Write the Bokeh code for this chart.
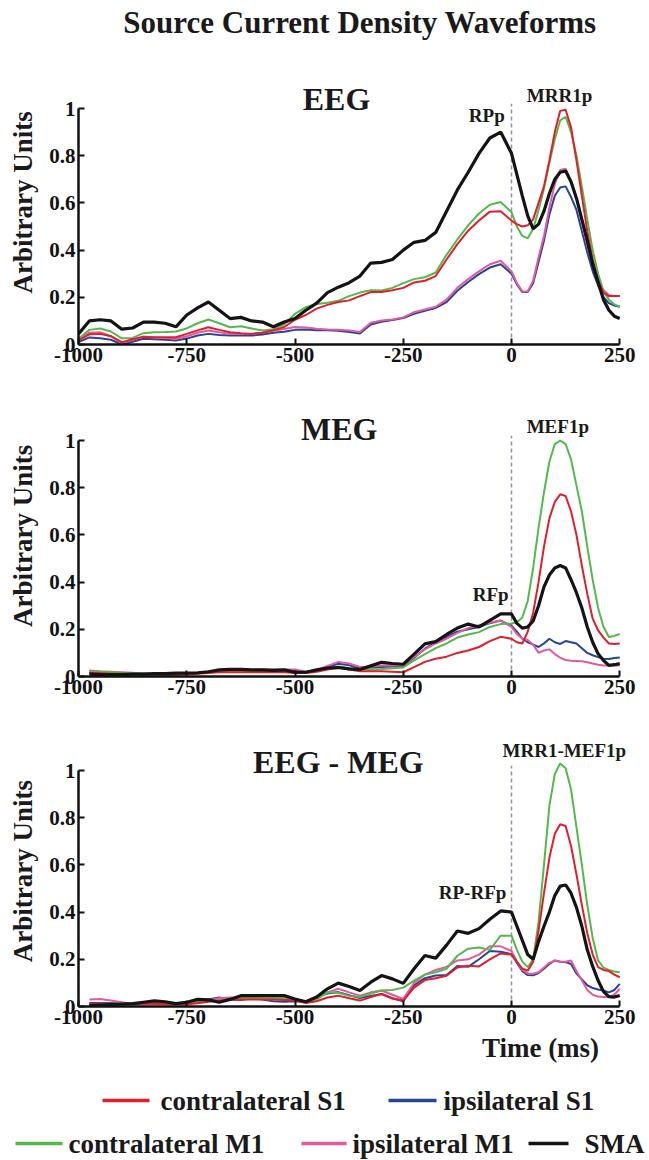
import math
import numpy as np
from bokeh.plotting import figure
from bokeh.layouts import column, row
from bokeh.models import Range1d, FixedTicker, NumeralTickFormatter
from bokeh.core.properties import value
from bokeh.embed import file_html
from bokeh.resources import INLINE

nan = float("nan")

# ---------------- data ----------------
time_ms = [-1000, -975, -950, -925, -900, -875, -850, -825, -800, -775,
           -750, -725, -700, -675, -650, -625, -600, -575, -550, -525,
           -500, -475, -450, -425, -400, -375, -350, -325, -300, -275,
           -250, -225, -200, -175, -150, -125, -100, -75, -50, -25,
           0, 12.5, 25, 37.5, 50, 62.5, 75, 87.5, 100, 112.5,
           125, 137.5, 150, 162.5, 175, 187.5, 200, 212.5, 225, 237.5, 250]

series_names = ["ipsilateral S1", "ipsilateral M1", "contralateral M1", "contralateral S1", "SMA"]

# EEG
eeg_contra_s1 = [0.017, 0.043, 0.045, 0.035, 0.01, 0.022, 0.032, 0.031, 0.031, 0.031,
                 0.045, 0.06, 0.073, 0.062, 0.052, 0.048, 0.045, 0.05, 0.06, 0.074,
                 0.105, 0.125, 0.152, 0.168, 0.18, 0.187, 0.205, 0.222, 0.222, 0.23,
                 0.24, 0.263, 0.27, 0.29, 0.36, 0.425, 0.482, 0.525, 0.563, 0.565,
                 0.525, 0.51, 0.50, 0.505, 0.53, 0.60, 0.67, 0.78, 0.90, 0.99,
                 0.995, 0.92, 0.78, 0.63, 0.48, 0.36, 0.27, 0.22, 0.205, 0.205, 0.205]
eeg_ipsi_s1 = [0.01, 0.03, 0.026, 0.02, 0.0, 0.012, 0.024, 0.022, 0.02, 0.017,
               0.025, 0.038, 0.045, 0.04, 0.038, 0.038, 0.038, 0.042, 0.05, 0.054,
               0.062, 0.064, 0.06, 0.06, 0.058, 0.053, 0.047, 0.085, 0.096, 0.104,
               0.112, 0.13, 0.143, 0.155, 0.18, 0.228, 0.265, 0.298, 0.326, 0.34,
               0.30, 0.255, 0.222, 0.222, 0.26, 0.35, 0.44, 0.55, 0.63, 0.665,
               0.67, 0.625, 0.57, 0.48, 0.39, 0.31, 0.25, 0.20, 0.175, 0.165, 0.16]
eeg_contra_m1 = [0.024, 0.062, 0.068, 0.055, 0.026, 0.028, 0.048, 0.052, 0.053, 0.055,
                 0.068, 0.09, 0.106, 0.09, 0.073, 0.077, 0.068, 0.059, 0.065, 0.085,
                 0.13, 0.158, 0.172, 0.177, 0.185, 0.205, 0.22, 0.23, 0.229, 0.24,
                 0.26, 0.277, 0.285, 0.305, 0.38, 0.445, 0.505, 0.555, 0.592, 0.604,
                 0.56, 0.50, 0.46, 0.45, 0.49, 0.57, 0.66, 0.77, 0.87, 0.95,
                 0.965, 0.90, 0.80, 0.67, 0.53, 0.40, 0.30, 0.225, 0.19, 0.17, 0.16]
eeg_ipsi_m1 = [0.02, 0.05, 0.052, 0.035, 0.006, 0.02, 0.034, 0.03, 0.028, 0.024,
               0.035, 0.05, 0.059, 0.052, 0.046, 0.045, 0.045, 0.05, 0.058, 0.066,
               0.074, 0.072, 0.067, 0.064, 0.062, 0.059, 0.053, 0.092, 0.102, 0.106,
               0.115, 0.137, 0.148, 0.16, 0.19, 0.24, 0.277, 0.31, 0.34, 0.355,
               0.31, 0.26, 0.225, 0.225, 0.27, 0.37, 0.46, 0.58, 0.68, 0.74,
               0.745, 0.69, 0.62, 0.52, 0.42, 0.34, 0.27, 0.23, 0.21, 0.205, 0.205]
eeg_sma = [0.045, 0.10, 0.105, 0.10, 0.065, 0.07, 0.095, 0.095, 0.09, 0.075,
           0.125, 0.155, 0.18, 0.145, 0.11, 0.115, 0.10, 0.095, 0.075, 0.095,
           0.11, 0.145, 0.175, 0.22, 0.243, 0.262, 0.29, 0.345, 0.348, 0.36,
           0.40, 0.433, 0.441, 0.475, 0.565, 0.655, 0.73, 0.81, 0.875, 0.90,
           0.81, 0.72, 0.63, 0.545, 0.49, 0.51, 0.565, 0.64, 0.70, 0.73,
           0.735, 0.69, 0.62, 0.53, 0.44, 0.34, 0.265, 0.19, 0.145, 0.12, 0.11]

# MEG
meg_contra_s1 = [nan, 0.015, 0.014, 0.012, 0.012, 0.01, 0.01, 0.008, 0.008, 0.008,
                 0.01, 0.012, 0.015, 0.018, 0.018, 0.018, 0.018, 0.018, 0.018, 0.018,
                 0.015, 0.015, 0.02, 0.03, 0.037, 0.03, 0.022, 0.022, 0.022, 0.02,
                 0.018, 0.04, 0.062, 0.075, 0.084, 0.10, 0.11, 0.125, 0.15, 0.168,
                 0.16, 0.145, 0.14, 0.19, 0.27, 0.40, 0.55, 0.67, 0.74, 0.772,
                 0.765, 0.70, 0.60, 0.47, 0.35, 0.245, 0.195, 0.165, 0.14, 0.138, 0.14]
meg_ipsi_s1 = [nan, 0.018, 0.018, 0.016, 0.014, 0.012, 0.01, 0.01, 0.01, 0.01,
               0.012, 0.014, 0.018, 0.022, 0.025, 0.025, 0.025, 0.026, 0.026, 0.028,
               0.025, 0.018, 0.025, 0.04, 0.054, 0.048, 0.036, 0.038, 0.04, 0.042,
               0.042, 0.08, 0.118, 0.145, 0.168, 0.19, 0.20, 0.21, 0.226, 0.237,
               0.215, 0.19, 0.16, 0.145, 0.135, 0.125, 0.14, 0.16, 0.145, 0.138,
               0.15, 0.145, 0.14, 0.12, 0.10, 0.09, 0.082, 0.075, 0.074, 0.078, 0.081]
meg_contra_m1 = [nan, 0.02, 0.02, 0.018, 0.016, 0.015, 0.014, 0.012, 0.01, 0.01,
                 0.012, 0.015, 0.018, 0.02, 0.022, 0.022, 0.022, 0.022, 0.022, 0.025,
                 0.02, 0.018, 0.025, 0.035, 0.042, 0.035, 0.03, 0.03, 0.032, 0.035,
                 0.038, 0.068, 0.095, 0.12, 0.14, 0.165, 0.178, 0.188, 0.21, 0.222,
                 0.225, 0.23, 0.25, 0.32, 0.46, 0.63, 0.78, 0.91, 0.985, 1.0,
                 0.985, 0.92, 0.81, 0.70, 0.55, 0.41, 0.29, 0.21, 0.167, 0.172, 0.18]
meg_ipsi_m1 = [nan, 0.025, 0.022, 0.02, 0.018, 0.016, 0.012, 0.01, 0.008, 0.01,
               0.012, 0.014, 0.02, 0.025, 0.028, 0.028, 0.028, 0.03, 0.03, 0.03,
               0.03, 0.02, 0.028, 0.045, 0.062, 0.055, 0.04, 0.042, 0.047, 0.048,
               0.047, 0.083, 0.115, 0.14, 0.16, 0.185, 0.205, 0.217, 0.228, 0.237,
               0.21, 0.18, 0.16, 0.155, 0.135, 0.10, 0.11, 0.115, 0.095, 0.08,
               0.07, 0.067, 0.066, 0.065, 0.06, 0.055, 0.05, 0.047, 0.047, 0.047, 0.047]
meg_sma = [nan, 0.01, 0.008, 0.008, 0.008, 0.01, 0.01, 0.012, 0.012, 0.014,
           0.014, 0.016, 0.02, 0.028, 0.03, 0.03, 0.028, 0.028, 0.026, 0.028,
           0.018, 0.018, 0.028, 0.036, 0.038, 0.032, 0.03, 0.045, 0.06, 0.055,
           0.052, 0.095, 0.138, 0.148, 0.178, 0.205, 0.222, 0.21, 0.238, 0.265,
           0.265, 0.225, 0.205, 0.21, 0.235, 0.30, 0.38, 0.43, 0.46, 0.47,
           0.46, 0.41, 0.355, 0.29, 0.21, 0.145, 0.096, 0.068, 0.047, 0.05, 0.055]

# EEG - MEG
dif_contra_s1 = [nan, 0.012, 0.012, 0.01, 0.01, 0.01, 0.012, 0.012, 0.01, 0.008,
                 0.01, 0.014, 0.02, 0.025, 0.028, 0.03, 0.03, 0.03, 0.03, 0.028,
                 0.025, 0.015, 0.022, 0.038, 0.046, 0.035, 0.025, 0.04, 0.053, 0.034,
                 0.025, 0.08, 0.112, 0.12, 0.13, 0.165, 0.173, 0.17, 0.20, 0.225,
                 0.22, 0.19, 0.16, 0.152, 0.19, 0.32, 0.48, 0.63, 0.732, 0.772,
                 0.765, 0.68, 0.56, 0.43, 0.31, 0.22, 0.167, 0.155, 0.15, 0.135, 0.124]
dif_ipsi_s1 = [nan, 0.015, 0.015, 0.015, 0.012, 0.01, 0.01, 0.012, 0.014, 0.012,
               0.012, 0.018, 0.03, 0.038, 0.03, 0.028, 0.035, 0.03, 0.022, 0.02,
               0.022, 0.02, 0.04, 0.055, 0.061, 0.048, 0.036, 0.045, 0.053, 0.035,
               0.022, 0.09, 0.12, 0.131, 0.133, 0.172, 0.168, 0.20, 0.235, 0.232,
               0.222, 0.185, 0.15, 0.133, 0.132, 0.142, 0.16, 0.18, 0.195, 0.19,
               0.188, 0.18, 0.14, 0.115, 0.09, 0.078, 0.072, 0.068, 0.06, 0.07, 0.096]
dif_contra_m1 = [nan, 0.01, 0.012, 0.012, 0.012, 0.014, 0.016, 0.018, 0.016, 0.014,
                 0.018, 0.022, 0.025, 0.025, 0.03, 0.035, 0.035, 0.035, 0.035, 0.035,
                 0.032, 0.018, 0.03, 0.06, 0.058, 0.045, 0.04, 0.055, 0.068, 0.07,
                 0.08, 0.11, 0.135, 0.145, 0.16, 0.215, 0.245, 0.25, 0.24, 0.30,
                 0.30, 0.24, 0.19, 0.167, 0.20, 0.36, 0.60, 0.85, 0.985, 1.03,
                 1.01, 0.92, 0.76, 0.60, 0.43, 0.29, 0.195, 0.165, 0.155, 0.148, 0.145]
dif_ipsi_m1 = [nan, 0.03, 0.032, 0.025, 0.018, 0.012, 0.011, 0.01, 0.012, 0.014,
               0.014, 0.018, 0.025, 0.035, 0.038, 0.038, 0.036, 0.034, 0.032, 0.03,
               0.03, 0.022, 0.035, 0.06, 0.075, 0.06, 0.046, 0.06, 0.068, 0.05,
               0.032, 0.10, 0.135, 0.155, 0.168, 0.195, 0.20, 0.22, 0.255, 0.255,
               0.235, 0.19, 0.155, 0.14, 0.139, 0.145, 0.165, 0.185, 0.195, 0.19,
               0.19, 0.195, 0.15, 0.11, 0.07, 0.05, 0.042, 0.04, 0.04, 0.05, 0.075]
dif_sma = [nan, 0.004, 0.006, 0.008, 0.01, 0.012, 0.018, 0.024, 0.02, 0.012,
           0.018, 0.03, 0.028, 0.018, 0.03, 0.046, 0.046, 0.046, 0.046, 0.046,
           0.032, 0.02, 0.04, 0.075, 0.099, 0.085, 0.068, 0.103, 0.131, 0.117,
           0.098, 0.16, 0.216, 0.205, 0.26, 0.32, 0.31, 0.33, 0.37, 0.405,
           0.40, 0.34, 0.28, 0.22, 0.20, 0.275, 0.34, 0.40, 0.47, 0.51,
           0.515, 0.48, 0.42, 0.34, 0.24, 0.17, 0.11, 0.063, 0.042, 0.04, 0.047]

x_ticks = [-1000, -750, -500, -250, 0, 250]
y_ticks = [0, 0.2, 0.4, 0.6, 0.8, 1]
onset_ms = 0
onset_line_top = 1.02

# ---------------- style ----------------
FONT = "Liberation Serif"
INK = "#1a1a1a"
COLOR = {"contralateral S1": "#e31d2b", "ipsilateral S1": "#25449a",
         "contralateral M1": "#55b84a", "ipsilateral M1": "#e45a9c", "SMA": "#141414"}
WIDTH = {"contralateral S1": 2.0, "ipsilateral S1": 2.0, "contralateral M1": 2.0,
         "ipsilateral M1": 2.0, "SMA": 3.2}
LABEL_W = 40          # strip holding the rotated y-axis title
FRAME_W = 571
X_END = -1000 + FRAME_W / 0.433


def y_label_strip(top, bottom, center):
    s = figure(width=LABEL_W, height=bottom - top, title=None,
               x_range=Range1d(0, LABEL_W), y_range=Range1d(bottom, top),
               min_border=0, x_axis_location=None, y_axis_location=None,
               output_backend="svg", toolbar_location=None)
    s.outline_line_color = None
    s.grid.visible = False
    s.text(x=[22], y=[center], text=["Arbitrary Units"], angle=math.pi / 2,
           text_font=value(FONT), text_font_style="bold", text_font_size="27px",
           text_align="center", text_baseline="middle", text_color=INK)
    return s


def make_panel(series, frame_h, border_b, texts):
    p = figure(frame_width=FRAME_W, frame_height=frame_h, title=None,
               x_range=Range1d(-1000, X_END), y_range=Range1d(0, frame_h / 236),
               min_border_left=78 - LABEL_W, min_border_right=0, min_border_top=0,
               min_border_bottom=border_b, output_backend="svg", toolbar_location=None)
    p.outline_line_color = None
    p.grid.visible = False
    for ax in (p.xaxis[0], p.yaxis[0]):
        ax.axis_line_width = 2.5
        ax.axis_line_color = "#111111"
        ax.major_tick_line_width = 2
        ax.major_tick_line_color = "#111111"
        ax.major_tick_in = 6
        ax.major_tick_out = 0
        ax.minor_tick_line_color = None
        ax.major_label_text_font = FONT
        ax.major_label_text_font_style = "bold"
        ax.major_label_text_font_size = "21px"
        ax.major_label_text_color = "#111111"
        ax.major_label_standoff = 3
    p.xaxis[0].ticker = FixedTicker(ticks=x_ticks)
    p.xaxis[0].formatter = NumeralTickFormatter(format="0")
    p.xaxis[0].bounds = (-1000, 250)
    p.yaxis[0].ticker = FixedTicker(ticks=y_ticks)
    p.yaxis[0].formatter = NumeralTickFormatter(format="0.[0]")
    p.yaxis[0].bounds = (0, 1)

    p.segment(x0=[onset_ms], y0=[0], x1=[onset_ms], y1=[onset_line_top],
              line_color="#9d8aa6", line_width=1.5, line_dash="4 3")
    for name in series_names:
        p.line(np.array(time_ms, dtype=float), np.array(series[name], dtype=float),
               line_color=COLOR[name], line_width=WIDTH[name])
    for (tx, ty, txt, size) in texts:
        p.text(x=[tx], y=[ty], text=[txt], text_font=value(FONT), text_font_style="bold",
               text_font_size=size, text_align="center", text_baseline="middle",
               text_color=INK)
    return p


eeg = {"contralateral S1": eeg_contra_s1, "ipsilateral S1": eeg_ipsi_s1,
       "contralateral M1": eeg_contra_m1, "ipsilateral M1": eeg_ipsi_m1, "SMA": eeg_sma}
meg = {"contralateral S1": meg_contra_s1, "ipsilateral S1": meg_ipsi_s1,
       "contralateral M1": meg_contra_m1, "ipsilateral M1": meg_ipsi_m1, "SMA": meg_sma}
dif = {"contralateral S1": dif_contra_s1, "ipsilateral S1": dif_ipsi_s1,
       "contralateral M1": dif_contra_m1, "ipsilateral M1": dif_ipsi_m1, "SMA": dif_sma}

p1 = make_panel(eeg, 344, 41, [
    (-350, 1.364, "Source Current Density Waveforms", "31px"),
    (-404, 1.04, "EEG", "32px"),
    (111, 1.055, "MRR1p", "19px"),
    (-57, 0.97, "RPp", "19px"),
])
p2 = make_panel(meg, 291, 40, [
    (-398, 1.047, "MEG", "32px"),
    (107, 1.06, "MEF1p", "19px"),
    (-48, 0.347, "RFp", "19px"),
])
p3 = make_panel(dif, 290, 27, [
    (-400, 1.034, "EEG - MEG", "32px"),
    (122, 1.085, "MRR1-MEF1p", "19px"),
    (-90, 0.483, "RP-RFp", "19px"),
])
s1 = y_label_strip(0, 385, 226)
s2 = y_label_strip(385, 716, 556)
s3 = y_label_strip(716, 1033, 885)

# ---------------- legend / x label strip ----------------
LEG_TOP, LEG_BOTTOM = 1033, 1159
leg = figure(width=649, height=LEG_BOTTOM - LEG_TOP, title=None, x_range=Range1d(0, 649),
             y_range=Range1d(LEG_BOTTOM, LEG_TOP), min_border=0,
             x_axis_location=None, y_axis_location=None,
             output_backend="svg", toolbar_location=None)
leg.outline_line_color = None
leg.grid.visible = False
leg.text(x=[540], y=[1047], text=["Time (ms)"], text_font=value(FONT), text_font_style="bold",
         text_font_size="27px", text_align="center", text_baseline="middle", text_color=INK)
legend_layout = [("contralateral S1", 102, 149, 160, 1100),
                 ("ipsilateral S1", 388, 436, 443, 1100),
                 ("contralateral M1", 15, 62, 68, 1143),
                 ("ipsilateral M1", 301, 346, 352, 1143),
                 ("SMA", 528, 568, 584, 1143)]
for name, lx0, lx1, tx, ly in legend_layout:
    leg.segment(x0=[lx0], y0=[ly], x1=[lx1], y1=[ly], line_color=COLOR[name], line_width=3.5)
    leg.text(x=[tx], y=[ly], text=[name], text_font=value(FONT), text_font_style="bold",
             text_font_size="27px", text_align="left", text_baseline="middle", text_color=INK)

layout = column(row(s1, p1, spacing=0), row(s2, p2, spacing=0), row(s3, p3, spacing=0),
                leg, spacing=0)
open("out.html", "w").write(file_html(layout, INLINE))
